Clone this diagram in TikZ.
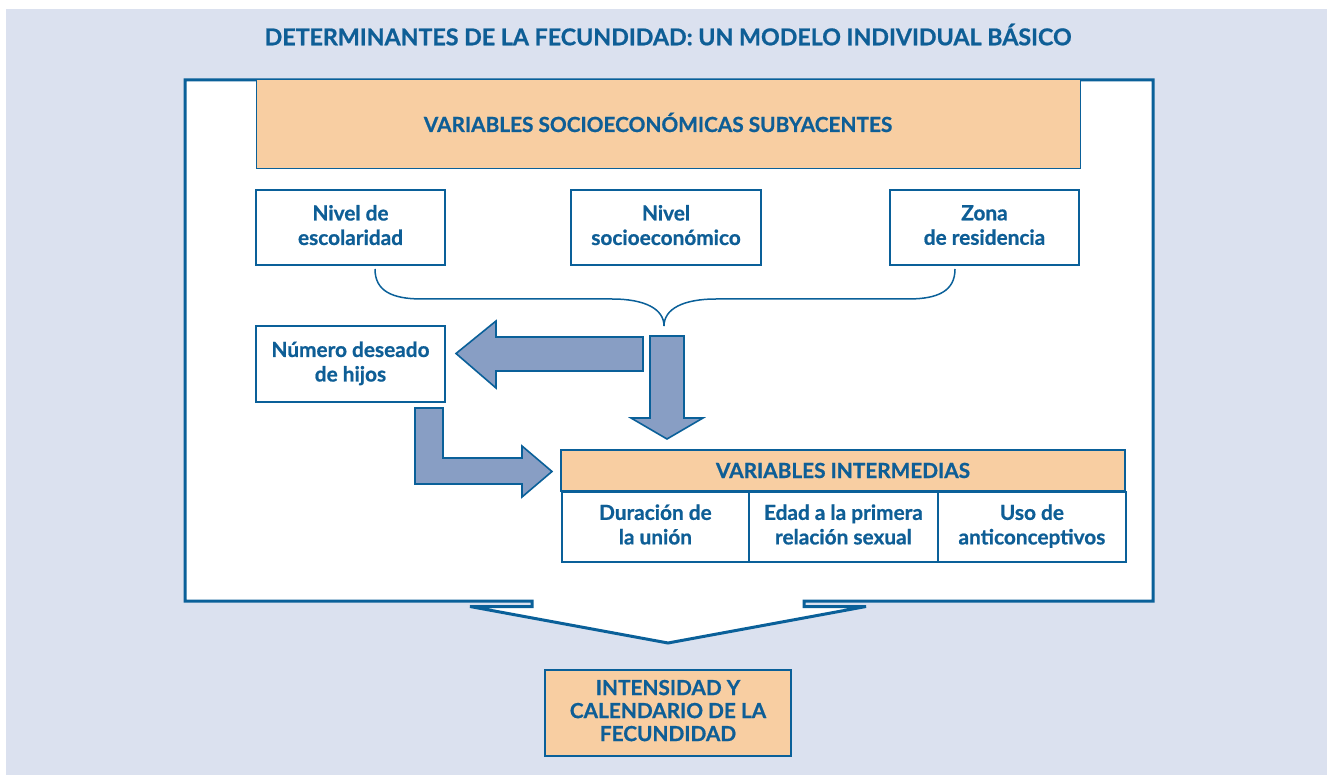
\documentclass[tikz,border=0pt]{standalone}
\usepackage{fontspec}
\setmainfont{Lato}[BoldFeatures={FakeBold=0.8}]
\definecolor{bgc}{RGB}{219,225,239}
\definecolor{lineblue}{RGB}{10,96,153}
\definecolor{txtblue}{RGB}{14,94,150}
\definecolor{peach}{RGB}{248,206,162}
\definecolor{arrowfill}{RGB}{136,158,196}
\newcommand\lstrut{\rule[-5pt]{0pt}{25pt}}
\tikzset{
  lbl/.style={text=txtblue, font=\fontsize{20.8}{24.5}\selectfont\bfseries, align=center, inner sep=0pt,
    execute at begin node=\lstrut, execute at end node=\lstrut},
  wbox/.style={lbl, draw=lineblue, line width=1.8pt, fill=white},
  pbox/.style={lbl, draw=lineblue, line width=1.8pt, fill=peach},
  cell/.style={lbl, draw=lineblue, line width=1.8pt, fill=white, minimum height=70pt},
  blockarrow/.style={fill=arrowfill, draw=lineblue, line width=1.6pt, line join=miter},
  brace/.style={draw=lineblue, line width=1.5pt},
}
\begin{document}
\begin{tikzpicture}[x=1pt,y=-1pt]
\useasboundingbox (0,0) rectangle (1327,775);
\fill[bgc] (6,9) rectangle (1327,775);
% title
\node[lbl, font=\fontsize{23.2}{26}\selectfont\bfseries] (title) at (668,37) {DETERMINANTES DE LA FECUNDIDAD: UN MODELO INDIVIDUAL BÁSICO};
% frame with chevron
\draw[fill=white, draw=lineblue, line width=3pt, line join=miter]
  (185,80) -- (1153,80) -- (1153,601) -- (804,601) -- (804,606.5) -- (866,606.5)
  -- (668,643) -- (470,606.5) -- (532,606.5) -- (532,601) -- (185,601) -- cycle;
% top box
\node[lbl, draw=lineblue, line width=1pt, fill=peach, minimum width=824pt, minimum height=89pt] (socio) at (668,124.5) {};
\node[lbl] (sociotxt) at (658,124.5) {VARIABLES SOCIOECONÓMICAS SUBYACENTES};
% three boxes
\node[wbox, minimum width=189pt, minimum height=75pt] (esc) at (350.5,227.5) {Nivel de\\escolaridad};
\node[wbox, minimum width=190pt, minimum height=75pt] (nse) at (666,227.5) {Nivel\\socioeconómico};
\node[wbox, minimum width=189pt, minimum height=75pt] (zona) at (984.5,227.5) {Zona\\de residencia};
% brace
\coordinate (btip) at (664,326);
\draw[brace] (375,269) .. controls (375,291) and (392,299) .. (422,299) -- (612,299)
  .. controls (645,299) and (664,309) .. (btip);
\draw[brace] (btip) .. controls (664,309) and (683,299) .. (716,299) -- (908,299)
  .. controls (938,299) and (955,291) .. (955,269);
% deseado
\node[wbox, minimum width=189pt, minimum height=76pt] (hijos) at (350.5,364) {Número deseado\\de hijos};
% variables intermedias
\node[pbox, minimum width=564pt, minimum height=41pt] (vint) at (843,470.5) {VARIABLES INTERMEDIAS};
\node[cell, minimum width=187pt, anchor=north west] (dur) at (561,491) {Duración de\\la unión};
\node[cell, minimum width=189pt, anchor=north west] (edad) at (748,491) {Edad a la primera\\relación sexual};
\node[cell, minimum width=188pt, anchor=north west] (uso) at (937,491) {Uso de\\anticonceptivos};
% block arrows
\draw[blockarrow] (643,337) -- (496,337) -- (496,321) -- (456,353.5) -- (496,388) -- (496,371) -- (643,371) -- cycle;
\draw[blockarrow] (650,336) -- (684,336) -- (684,418) -- (703,418) -- (667,439) -- (631,418) -- (650,418) -- cycle;
\draw[blockarrow] (415,408) -- (443,408) -- (443,458) -- (522,458) -- (522,446) -- (552,471.5) -- (522,497) -- (522,484) -- (415,484) -- cycle;
% final box
\node[pbox, line width=2pt, font=\fontsize{20.8}{23}\selectfont\bfseries, minimum width=246pt, minimum height=86pt] (final) at (668,713) {INTENSIDAD Y\\CALENDARIO DE LA\\FECUNDIDAD};
\end{tikzpicture}
\end{document}
